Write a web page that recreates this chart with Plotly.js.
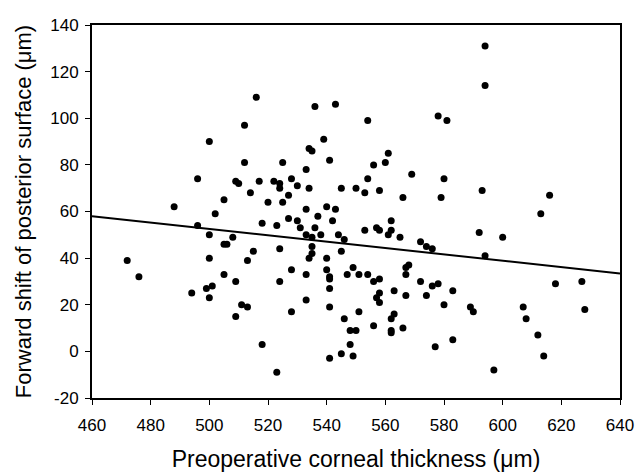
<!DOCTYPE html>
<html>
<head>
<meta charset="utf-8">
<script src="https://cdn.plot.ly/plotly-3.0.1.min.js"></script>
<style>html,body{margin:0;padding:0;background:#fff;}#chart{width:636px;height:472px;}</style>
</head>
<body>
<div id="chart"></div>
<script>
// Preoperative corneal thickness (µm)
const thickness = [
516,512,500,512,496,509,510,517,522,524,524,514,505,520,488,525,525,527,528,530,
533,534,533,534,535,536,543,539,541,540,543,545,550,553,554,554,556,560,561,558,
566,569,578,581,580,579,594,594,593,616,502,496,500,508,505,506,518,523,515,513,
524,472,476,500,505,509,524,494,499,501,500,511,513,509,518,523,527,530,537,542,
531,536,533,535,538,544,546,545,535,535,534,540,528,533,540,541,541,541,533,528,
541,547,549,551,554,556,558,557,558,558,551,546,548,550,548,545,549,541,553,557,
558,562,562,561,565,572,574,576,567,568,567,563,567,572,574,576,578,580,583,562,
563,562,562,556,566,577,583,613,592,600,594,589,590,597,607,608,612,614,618,627,628
];
// Forward shift of posterior surface (µm)
const shift = [
109,97,90,81,74,73,72,73,73,72,70,68,65,64,62,64,81,67,74,71,
78,70,61,87,86,105,106,91,82,62,61,70,70,68,74,99,80,81,85,69,
66,76,101,99,74,66,131,114,69,67,59,54,50,49,46,46,55,54,43,39,
44,39,32,40,33,30,30,25,27,28,23,20,19,15,3,-9,57,56,58,56,
53,53,50,49,50,50,48,43,45,42,40,40,35,33,35,32,31,27,22,17,
19,33,36,33,33,30,31,23,25,21,17,14,9,9,3,-1,-2,-3,52,53,
52,56,52,50,49,47,45,44,36,37,33,26,24,30,24,28,29,20,26,14,
16,9,8,11,10,2,5,59,51,49,41,19,17,-8,19,14,7,-2,29,30,18
];
// Regression line end points
const fitX = [460, 640];
const fitY = [58, 33.4];

const xTicks = [460,480,500,520,540,560,580,600,620,640];
const yTicks = [-20,0,20,40,60,80,100,120,140];

const traces = [
  {x: thickness, y: shift, mode: 'markers', type: 'scatter',
   marker: {color: '#000', size: 7}, hoverinfo: 'x+y'},
  {x: fitX, y: fitY, mode: 'lines', type: 'scatter',
   line: {color: '#000', width: 2}}
];

const FAM = 'Liberation Sans, Arial, sans-serif';
const tickFont = {family: FAM, size: 17, color: '#000'};
const layout = {
  width: 636, height: 472,
  margin: {l: 92, r: 16, t: 25, b: 74, pad: 0},
  paper_bgcolor: '#fff', plot_bgcolor: '#fff',
  showlegend: false,
  font: tickFont,
  xaxis: {
    range: [460, 640], tickvals: xTicks, ticktext: xTicks.map(String),
    showgrid: false, zeroline: false, automargin: false,
    showline: true, linecolor: '#000', linewidth: 2, mirror: true,
    ticks: 'outside', ticklen: 5, tickwidth: 1, tickcolor: '#000',
    tickfont: tickFont, ticklabelstandoff: 6,
    title: {text: 'Preoperative corneal thickness (μm)', font: {family: FAM, size: 23, color: '#000'}, standoff: 19}
  },
  yaxis: {
    range: [-20, 140], tickvals: yTicks, ticktext: yTicks.map(String),
    showgrid: false, zeroline: false, automargin: false,
    showline: true, linecolor: '#000', linewidth: 2, mirror: true,
    ticks: 'outside', ticklen: 5, tickwidth: 1, tickcolor: '#000',
    tickfont: tickFont, ticklabelstandoff: 3,
    title: {text: 'Forward shift of posterior surface (μm)', font: {family: FAM, size: 22, color: '#000'}, standoff: 13}
  }
};

Plotly.newPlot('chart', traces, layout, {displayModeBar: false, staticPlot: true});
</script>
</body>
</html>
